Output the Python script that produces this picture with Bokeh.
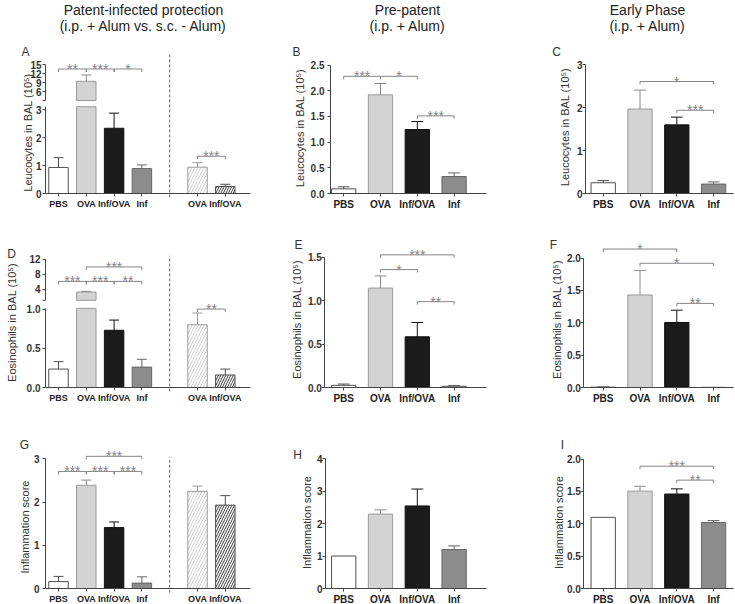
import math
from bokeh.plotting import figure
from bokeh.models import Range1d, FixedTicker, Label, AllLabels
from bokeh.layouts import row, column
from bokeh.embed import file_html
from bokeh.resources import INLINE
from bokeh.core.properties import value

FONT = "Liberation Sans"

# ---------------- data ----------------
groups = ["PBS", "OVA", "Inf/OVA", "Inf"]
right_groups = ["OVA", "Inf/OVA"]
headers = [["Patent-infected protection", "(i.p. + Alum vs. s.c. - Alum)"],
           ["Pre-patent", "(i.p. + Alum)"],
           ["Early Phase", "(i.p. + Alum)"]]
leuco_label = "Leucocytes in BAL (10\u2075)"
eos_label = "Eosinophils in BAL (10\u2075)"
infl_label = "Inflammation score"

A_mean = [0.93, 9.4, 2.33, 0.89]
A_err = [0.35, 2.1, 0.54, 0.13]
A_right_mean = [0.94, 0.25]
A_right_err = [0.16, 0.08]
A_yticks = [0, 1, 2, 3]
A_yticks_high = [6, 9, 12, 15]
A_sig = [(0, 1, 13.5, "**"), (1, 2, 13.5, "***"), (2, 3, 13.5, "*"), (5, 6, 1.33, "***")]

B_mean = [0.09, 1.92, 1.245, 0.33]
B_err = [0.04, 0.22, 0.155, 0.07]
B_yticks = [0, 0.5, 1.0, 1.5, 2.0, 2.5]
B_sig = [(0, 1, 2.28, "***"), (1, 2, 2.28, "*"), (2, 3, 1.51, "***")]

C_mean = [0.25, 1.97, 1.6, 0.22]
C_err = [0.05, 0.44, 0.18, 0.05]
C_yticks = [0, 1, 2, 3]
C_sig = [(1, 3, 2.61, "*"), (2, 3, 1.94, "***")]

D_mean = [0.235, 3.2, 0.73, 0.26]
D_err = [0.095, 0.2, 0.13, 0.1]
D_right_mean = [0.8, 0.16]
D_right_err = [0.15, 0.075]
D_yticks = [0, 0.5, 1.0]
D_yticks_high = [4, 8, 12]
D_sig = [(0, 1, 6.05, "***"), (1, 2, 6.05, "***"), (2, 3, 6.05, "**"), (1, 3, 9.9, "***"), (5, 6, 1.0, "**")]

E_mean = [0.025, 1.147, 0.585, 0.015]
E_err = [0.015, 0.14, 0.165, 0.008]
E_yticks = [0, 0.5, 1.0, 1.5]
E_sig = [(1, 3, 1.53, "***"), (1, 2, 1.36, "*"), (2, 3, 0.99, "**")]

F_mean = [0.005, 1.43, 1.005, 0.003]
F_err = [0.004, 0.38, 0.19, 0.0]
F_yticks = [0, 0.5, 1.0, 1.5, 2.0]
F_sig = [(0, 2, 2.14, "*"), (1, 3, 1.92, "*"), (2, 3, 1.3, "**")]

G_mean = [0.16, 2.39, 1.41, 0.125]
G_err = [0.12, 0.12, 0.13, 0.145]
G_right_mean = [2.25, 1.93]
G_right_err = [0.12, 0.22]
G_yticks = [0, 1, 2, 3]
G_sig = [(0, 1, 2.71, "***"), (1, 2, 2.71, "***"), (2, 3, 2.71, "***"), (1, 3, 3.06, "***")]

H_mean = [1.0, 2.29, 2.54, 1.2]
H_err = [0.0, 0.13, 0.52, 0.11]
H_yticks = [0, 1, 2, 3, 4]
H_sig = []

I_mean = [1.1, 1.505, 1.46, 1.02]
I_err = [0.0, 0.075, 0.08, 0.03]
I_yticks = [0, 0.5, 1.0, 1.5, 2.0]
I_sig = [(1, 3, 1.89, "***"), (2, 3, 1.675, "**")]

# ---------------- styles / layout ----------------
LEFT_FILL = ["#ffffff", "#d3d3d3", "#1b1b1b", "#8c8c8c"]
LEFT_LINE = ["#505050", "#9a9a9a", "#111111", "#666666"]
ERR_LINE = ["#505050", "#8a8a8a", "#111111", "#666666"]
RIGHT_LINE = ["#9a9a9a", "#505050"]
RIGHT_HATCH = ["#c4c4c4", "#3a3a3a"]
RIGHT_SCALE = [6, 5]
RIGHT_WEIGHT = [0.8, 1.0]
AXIS_C = "#444444"
SIG_C = "#858585"

COLS = [(0, 280), (280, 540), (540, 735)]
ROWS = [(0, 212), (212, 404), (404, 603)]
ZERO = [193, 387, 588]

panels = [
    dict(col=0, row=0, axis_x=45, end_x=250, c0=58, u=27.8, ppu=28.0, bw=0.70, cap=0.18, standoff=1,
         mean=A_mean, err=A_err, rmean=A_right_mean, rerr=A_right_err, ticks=A_yticks, high=A_yticks_high,
         dec=0, brk=(3.1, 3, 3.321, 3 / 28.0), sig=A_sig, dash=(-0.14, 5.0),
         letter="A", lpos=(25, 51), ylabel=leuco_label, tpos=(27, 132)),
    dict(col=1, row=0, axis_x=330, end_x=486, c0=343.2, u=36.8, ppu=51.4, bw=0.66, cap=0.16, standoff=3,
         mean=B_mean, err=B_err, ticks=B_yticks, dec=1, sig=B_sig,
         letter="B", lpos=(296, 51), ylabel=leuco_label, tpos=(299, 127.5)),
    dict(col=2, row=0, axis_x=585, end_x=733, c0=602.7, u=36.8, ppu=42.9, bw=0.66, cap=0.16, standoff=0,
         mean=C_mean, err=C_err, ticks=C_yticks, dec=0, sig=C_sig,
         letter="C", lpos=(556, 51), ylabel=leuco_label, tpos=(564, 126.5)),
    dict(col=0, row=1, axis_x=45, end_x=250, c0=58, u=27.8, ppu=78.4, bw=0.70, cap=0.18, standoff=2,
         mean=D_mean, err=D_err, rmean=D_right_mean, rerr=D_right_err, ticks=D_yticks, high=D_yticks_high,
         dec=1, brk=(1.01, 1, 1.112, 3.75 / 78.4), sig=D_sig, dash=(-0.05, 1.68),
         letter="D", lpos=(11, 253), ylabel=eos_label, tpos=(11, 322)),
    dict(col=1, row=1, axis_x=324.3, end_x=486, c0=343.2, u=36.8, ppu=86.7, bw=0.66, cap=0.16, standoff=0,
         mean=E_mean, err=E_err, ticks=E_yticks, dec=1, sig=E_sig,
         letter="E", lpos=(298, 244), ylabel=eos_label, tpos=(296, 319)),
    dict(col=2, row=1, axis_x=583.3, end_x=733, c0=602.7, u=36.8, ppu=64.7, bw=0.66, cap=0.16, standoff=0,
         mean=F_mean, err=F_err, ticks=F_yticks, dec=1, sig=F_sig,
         letter="F", lpos=(553, 244), ylabel=eos_label, tpos=(556, 319)),
    dict(col=0, row=2, axis_x=45, end_x=250, c0=58, u=27.8, ppu=43.2, bw=0.70, cap=0.18, standoff=3,
         mean=G_mean, err=G_err, rmean=G_right_mean, rerr=G_right_err, ticks=G_yticks,
         dec=0, sig=G_sig, dash=(-0.1, 3.04),
         letter="G", lpos=(24, 444), ylabel=infl_label, tpos=(24, 526.5)),
    dict(col=1, row=2, axis_x=325, end_x=486, c0=343.2, u=36.8, ppu=32.5, bw=0.66, cap=0.16, standoff=0,
         mean=H_mean, err=H_err, ticks=H_yticks, dec=0, sig=H_sig,
         letter="H", lpos=(297, 454), ylabel=infl_label, tpos=(306, 522)),
    dict(col=2, row=2, axis_x=583.3, end_x=733, c0=602.7, u=36.8, ppu=64.7, bw=0.66, cap=0.16, standoff=0,
         mean=I_mean, err=I_err, ticks=I_yticks, dec=1, sig=I_sig,
         letter="I", lpos=(562, 444), ylabel=infl_label, tpos=(558.5, 522)),
]


def fmt(v, dec):
    return f"{v:.{dec}f}"


def make_panel(cfg):
    col, rw = cfg["col"], cfg["row"]
    cx0, cx1 = COLS[col]
    cy0, cy1 = ROWS[rw]
    zero = ZERO[rw]
    u, c0, ppu = cfg["u"], cfg["c0"], cfg["ppu"]
    x_lo = (cx0 - c0) / u
    x_hi = (cx1 - c0) / u
    y_lo = (zero - cy1) / ppu
    y_hi = (zero - cy0) / ppu
    ax_x = (cfg["axis_x"] - c0) / u
    end_x = (cfg["end_x"] - c0) / u

    p = figure(width=cx1 - cx0, height=cy1 - cy0,
               x_range=Range1d(x_lo, x_hi), y_range=Range1d(y_lo, y_hi),
               min_border=0, min_border_left=0, min_border_right=0,
               min_border_top=0, min_border_bottom=0,
               toolbar_location=None, output_backend="svg", title=None)
    p.outline_line_color = None
    p.grid.visible = False
    p.background_fill_color = "white"
    p.border_fill_color = "white"

    brk = cfg.get("brk")

    def fup(v):
        return brk[2] + (v - brk[1]) * brk[3]

    def fmap(v):
        if brk is None or v <= brk[0]:
            return v
        return fup(v)

    bw = cfg["bw"]
    cap = cfg["cap"]
    pos = [0, 1, 2, 3]

    # left-group bars
    vx, vt, vf, vl = [], [], [], []
    for i, m in enumerate(cfg["mean"]):
        if brk is not None and m > brk[0]:
            p.quad(left=[i - bw / 2, i - bw / 2], right=[i + bw / 2, i + bw / 2],
                   bottom=[0, fup(brk[1])], top=[brk[0], fup(m)],
                   fill_color=LEFT_FILL[i], line_color=LEFT_LINE[i], line_width=1)
        else:
            vx.append(pos[i]); vt.append(m); vf.append(LEFT_FILL[i]); vl.append(LEFT_LINE[i])
    p.vbar(x=vx, top=vt, bottom=0, width=bw, fill_color=vf, line_color=vl, line_width=1)

    # error bars (upper half)
    ex0, ey0, ey1, ec = [], [], [], []
    for i, (m, e) in enumerate(zip(cfg["mean"], cfg["err"])):
        if e > 0:
            ex0.append(pos[i]); ey0.append(fmap(m)); ey1.append(fmap(m + e)); ec.append(ERR_LINE[i])
    p.segment(x0=ex0, y0=ey0, x1=ex0, y1=ey1, line_color=ec, line_width=1)
    p.segment(x0=[x - cap for x in ex0], y0=ey1, x1=[x + cap for x in ex0], y1=ey1, line_color=ec, line_width=1)

    xticks = list(pos)
    xlabels = list(groups)
    if "rmean" in cfg:
        rpos = [5, 6]
        for j, (m, e) in enumerate(zip(cfg["rmean"], cfg["rerr"])):
            p.vbar(x=[rpos[j]], top=[m], bottom=0, width=bw, fill_color="#ffffff",
                   line_color=RIGHT_LINE[j], line_width=1,
                   hatch_pattern="/", hatch_color=RIGHT_HATCH[j], hatch_scale=RIGHT_SCALE[j],
                   hatch_weight=RIGHT_WEIGHT[j])
            p.segment(x0=[rpos[j], rpos[j] - cap], y0=[m, m + e], x1=[rpos[j], rpos[j] + cap], y1=[m + e, m + e],
                      line_color=RIGHT_LINE[j], line_width=1)
        xticks += rpos
        xlabels += right_groups
        d0, d1 = cfg["dash"]
        p.segment(x0=[4], y0=[d0], x1=[4], y1=[d1], line_color="#666666",
                  line_width=1, line_dash="3 2")

    # significance brackets
    leg = 3.0 / ppu
    bx0, by0, bx1, by1 = [], [], [], []
    tx, ty, tt = [], [], []
    for (a, b, y, lab) in cfg["sig"]:
        yy = fmap(y)
        bx0 += [a, a, b]; bx1 += [b, a, b]
        by0 += [yy, yy, yy]; by1 += [yy, yy - leg, yy - leg]
        tx.append((a + b) / 2); ty.append(yy); tt.append(lab)
    if bx0:
        p.segment(x0=bx0, y0=by0, x1=bx1, y1=by1, line_color=SIG_C, line_width=1)
        p.text(x=tx, y=ty, text=tt, text_align="center", text_baseline="alphabetic",
               text_font=value(FONT), text_font_size=value("14px"), text_color=SIG_C)

    # y axis (fixed at the axis position inside the canvas)
    yax = p.yaxis[0]
    yax.fixed_location = ax_x
    ticks = [float(t) for t in cfg["ticks"]]
    labels = [fmt(t, cfg["dec"]) for t in ticks]
    if brk is not None:
        for t in cfg["high"]:
            ticks.append(fup(t)); labels.append(str(t))
        yax.axis_line_color = None
        top_hi = fup(cfg["high"][-1])
        tick_len = 3.0 / u
        # broken axis: lower and upper segments, with a small end tick at the break
        p.segment(x0=[ax_x, ax_x, ax_x - tick_len], y0=[0, fup(brk[1]), fup(brk[1])],
                  x1=[ax_x, ax_x, ax_x], y1=[brk[0], top_hi, fup(brk[1])],
                  line_color=AXIS_C, line_width=1)
        yax.bounds = (0, top_hi)
    else:
        yax.axis_line_color = AXIS_C
        yax.bounds = (0, max(ticks))
    yax.ticker = FixedTicker(ticks=ticks)
    yax.major_label_overrides = {t: l for t, l in zip(ticks, labels)}
    yax.major_label_policy = AllLabels()
    yax.major_tick_out = 3
    yax.major_tick_in = 0
    yax.minor_tick_line_color = None
    yax.major_tick_line_color = AXIS_C
    yax.major_label_standoff = cfg["standoff"]
    yax.major_label_text_font = FONT
    yax.major_label_text_font_size = "10px"
    yax.major_label_text_font_style = "bold"
    yax.major_label_text_color = "#333333"

    # x axis
    xax = p.xaxis[0]
    xax.fixed_location = 0
    xax.bounds = (ax_x, end_x)
    xax.ticker = FixedTicker(ticks=xticks)
    xax.major_label_overrides = {t: l for t, l in zip(xticks, xlabels)}
    xax.major_label_policy = AllLabels()
    xax.axis_line_color = AXIS_C
    xax.major_tick_line_color = AXIS_C
    xax.major_tick_out = 3
    xax.major_tick_in = 0
    xax.minor_tick_line_color = None
    xax.major_label_standoff = 2
    xax.major_label_text_font = FONT
    xax.major_label_text_font_size = "9px" if col == 0 else "10px"
    xax.major_label_text_font_style = "bold"
    xax.major_label_text_color = "#222222"

    def add_label(lx_, ly_, text, size, angle=0.0, color="#333333"):
        p.add_layout(Label(x=lx_ - cx0, y=cy1 - ly_, x_units="screen", y_units="screen",
                           text=text, angle=angle, text_align="center", text_baseline="middle",
                           text_font=FONT, text_font_size=size, text_color=color))

    lx, ly = cfg["lpos"]
    add_label(lx, ly, cfg["letter"], "12px")
    tx_, ty_ = cfg["tpos"]
    add_label(tx_, ty_, cfg["ylabel"], "11px", angle=math.pi / 2)

    if rw == 0:
        hx = [143, 407, 647][col]
        add_label(hx, 9.5, headers[col][0], "14px", color="#222222")
        add_label(hx, 25.5, headers[col][1], "14px", color="#222222")
    return p


figs = [make_panel(c) for c in panels]
layout = column(row(figs[0], figs[1], figs[2]),
                row(figs[3], figs[4], figs[5]),
                row(figs[6], figs[7], figs[8]))

open("out.html", "w").write(file_html(layout, INLINE))
